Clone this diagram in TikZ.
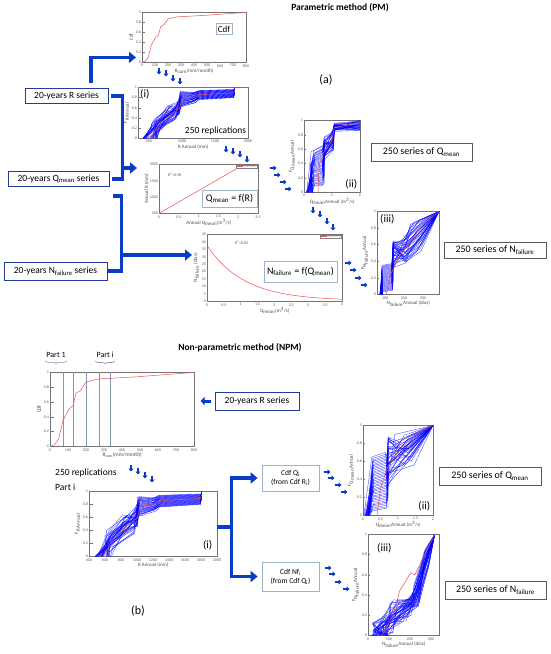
\documentclass[tikz,border=0pt]{standalone}
\usepackage{fontspec}
\setmainfont{Carlito}
\usetikzlibrary{arrows.meta,positioning,decorations.pathreplacing}
\definecolor{flowblue}{HTML}{0A3CC8}
\definecolor{boxblue}{HTML}{1F3C9A}
\definecolor{steelgrey}{HTML}{9FB2CC}
\definecolor{partline}{HTML}{8596B5}
\definecolor{fitred}{HTML}{F05050}
\newcommand{\unitticks}{%
  \foreach \v [count=\i from 0] in {0,0.2,0.4,0.6,0.8,1}
    {\draw[black!55] (0,\i/5) -- ++(0.03,0); \node[tk,left] at (0,\i/5) {\v};}}
\newcommand{\cdfcurve}{%
  \draw[fitcurve] plot coordinates {(0,0) (0.03,0.02) (0.06,0.1) (0.09,0.35) (0.13,0.5) (0.16,0.55)
    (0.18,0.72) (0.21,0.75) (0.25,0.87) (0.33,0.91) (0.6,0.94) (1,1)};}
\newcommand{\ibundle}{%
  \foreach \k in {0,...,36}{%
    \pgfmathsetmacro\pp{\k/36}\pgfmathsetmacro\ra{rnd}\pgfmathsetmacro\rb{rnd}\pgfmathsetmacro\rc{rnd}%
    \draw[rep] ({0.04+0.14*\ra},0) -- ({0.12+0.12*\rb},{0.15+0.25*\pp}) -- ({0.26+0.1*\rc},{0.35+0.3*\pp})
      -- ({0.36+0.02*\ra},{0.45+0.3*\rb}) -- ({0.38+0.02*\rc},{0.62+0.3*\pp}) -- ({0.48+0.05*\ra},{0.7+0.2*\pp})
      -- ({0.54+0.02*\rb},{0.76+0.18*\pp}) -- (0.87,{0.8+0.16*\pp}) -- (0.88,{0.88+0.12*\rc});}%
  \draw[fitcurve] (0.11,0) -- (0.19,0.28) -- (0.33,0.52) -- (0.38,0.6) -- (0.4,0.79) -- (0.52,0.81)
    -- (0.56,0.86) -- (0.87,0.89) -- (0.88,0.95);}

\begin{document}
\begin{tikzpicture}[x=1pt,y=-1pt,
  ax/.style={draw=black!55,line width=0.4pt,inner sep=0pt,fill=white},
  tk/.style={font=\fontsize{4}{4}\selectfont,text=black!65,inner sep=0.8pt},
  axlab/.style={font=\fontsize{5}{5}\selectfont,text=black!70,inner sep=0pt},
  series/.style={draw=boxblue,line width=0.9pt,fill=white,inner sep=2pt,font=\fontsize{9.5}{11}\selectfont,minimum height=15pt},
  result/.style={draw=black!65,line width=0.6pt,fill=white,inner sep=2pt,font=\fontsize{10}{11}\selectfont,minimum height=18pt},
  note/.style={draw=steelgrey,line width=0.7pt,fill=white,inner sep=2pt,align=center},
  tag/.style={font=\fontsize{11}{11}\selectfont,inner sep=1pt},
  flowline/.style={draw=flowblue,line width=3.6pt},
  flow/.style={flowline,-{Triangle[length=7pt,width=11pt]}},
  hop/.style={draw=flowblue,line width=1.8pt,-{Triangle[length=3pt,width=5pt]}},
  rep/.style={draw=blue,line width=0.35pt,opacity=0.75},
  fitcurve/.style={draw=fitred,line width=0.5pt},
  legend/.style={draw=black!50,line width=0.3pt,fill=white,inner sep=0.6pt,text=black!40,font=\fontsize{2.8}{3}\selectfont}]
  \useasboundingbox (0,0) rectangle (550,654);
  \pgfmathsetseed{17}

  % ---------- (a) parametric method ----------
  \node[font=\bfseries\fontsize{9.5}{10}\selectfont] (pmtitle) at (340,8) {Parametric method (PM)};
  \node[font=\fontsize{12}{12}\selectfont] (atag) at (326,80) {(a)};

  % cdf of monthly rain
  \node[ax,minimum width=104pt,minimum height=50pt,anchor=north west] (cdfa) at (142,12) {};
  \begin{scope}[shift={(cdfa.south west)},x={(104pt,0pt)},y={(0pt,50pt)}]
    \cdfcurve
    \foreach \v [count=\i from 0] in {0,100,...,800} \node[tk,below=1pt] at (\i/8,0) {\v};
    \unitticks
  \end{scope}
  \node[axlab,below=6pt of cdfa] (cdfaxl) {R\textsubscript{cum}(mm/month)};
  \node[axlab,rotate=90,anchor=south] (cdfayl) at ([xshift=-9pt]cdfa.west) {Cdf};
  \node[note,font=\fontsize{9}{9}\selectfont] (cdfatag) at (224,29) {Cdf};

  % (i) replications of annual rain
  \node[ax,minimum width=110pt,minimum height=51pt,anchor=north west] (ia) at (138,87) {};
  \begin{scope}[shift={(ia.south west)},x={(110pt,0pt)},y={(0pt,51pt)}]
    \ibundle
    \foreach \p/\v in {0.1/500,0.4/1000,0.7/1500,1/2000} \node[tk,below=1pt] at (\p,0) {\v};
    \unitticks
  \end{scope}
  \node[axlab,below=6pt of ia] (iaxl) {R Annual (mm)};
  \node[axlab,rotate=90,anchor=south] (iayl) at ([xshift=-9pt]ia.west) {F\textsubscript{R Annual}};
  \node[tag,anchor=north west] (iatag) at ([xshift=1pt,yshift=-1pt]ia.north west) {(i)};
  \node[fill=white,inner sep=1pt,font=\fontsize{9.5}{10}\selectfont,anchor=south east] (reps) at ([xshift=-1pt,yshift=2pt]ia.south east) {250 replications};

  % regression Q = f(R)
  \node[ax,minimum width=99pt,minimum height=49pt,anchor=north west] (qfr) at (159,164) {};
  \begin{scope}[shift={(qfr.south west)},x={(99pt,0pt)},y={(0pt,49pt)}]
    \draw[fitcurve] (0,0) -- (0.79,0.92);
    \foreach \v [count=\i from 0] in {0,0.5,1,1.5,2,2.5} \node[tk,below=1pt] at (\i/5,0) {\v};
    \foreach \v [count=\i from 0] in {500,1000,1500,2000} \node[tk,left] at (0,\i/3) {\v};
    \node[tk,anchor=west] at (0.08,0.8) {R\textsuperscript{2}=0.98};
  \end{scope}
  \node[legend,anchor=north east] (qfrleg) at ([xshift=-1pt,yshift=-1pt]qfr.north east) {\hspace{7pt}fitted curve};
  \draw[fitcurve] ([xshift=1pt]qfrleg.west) -- ++(6,0);
  \node[axlab,below=6pt of qfr] (qfrxl) {Annual Q\textsubscript{mean}(m\textsuperscript{3}/s)};
  \node[axlab,rotate=90,anchor=south] (qfryl) at ([xshift=-10pt]qfr.west) {Annual R (mm)};
  \node[note,font=\fontsize{10}{10}\selectfont,minimum width=55pt,minimum height=17pt] (qfrtag) at (229.5,198.5) {Q\textsubscript{mean} = f(R)};

  % (ii) series of Qmean
  \node[ax,minimum width=56pt,minimum height=72pt,anchor=north west] (iia) at (304,120) {};
  \begin{scope}[shift={(iia.south west)},x={(56pt,0pt)},y={(0pt,72pt)}]
    \foreach \k in {0,...,36}{%
      \pgfmathsetmacro\pp{\k/36}\pgfmathsetmacro\ra{rnd}\pgfmathsetmacro\rb{rnd}%
      \draw[rep] ({0.04+0.12*\ra},0) -- ({0.1+0.1*\rb},{0.08+0.5*\pp}) -- ({0.32+0.04*\ra},{0.1+0.55*\pp})
        -- (0.36,{0.42+0.35*\rb}) -- ({0.5+0.03*\ra},{0.58+0.28*\pp}) -- (0.54,{0.84+0.12*\rb}) -- (1,{0.86+0.14*\pp});}
    \draw[fitcurve] (0.25,0) -- (0.27,0.38) -- (0.35,0.55) -- (0.5,0.72) -- (0.54,0.9) -- (1,0.97);
    \foreach \v [count=\i from 0] in {0,1,2} \node[tk,below=1pt] at (\i/2,0) {\v};
    \unitticks
  \end{scope}
  \node[axlab,below=6pt of iia] (iiaxl) {Q\textsubscript{mean}Annual (m\textsuperscript{3}/s)};
  \node[axlab,rotate=90,anchor=south] (iiayl) at ([xshift=-9pt]iia.west) {F\textsubscript{Q\textsubscript{mean}Annual}};
  \node[tag,anchor=south east] (iiatag) at ([xshift=-2pt,yshift=2pt]iia.south east) {(ii)};
  \node[result,minimum width=101pt] (qsera) at (421.5,152) {250 series of Q\textsubscript{mean}};

  % regression N = f(Q)
  \node[ax,minimum width=135pt,minimum height=67pt,anchor=north west] (nfq) at (207,234) {};
  \begin{scope}[shift={(nfq.south west)},x={(135pt,0pt)},y={(0pt,67pt)}]
    \draw[fitcurve,domain=0:1,samples=40] plot (\x,{(37*exp(-4*\x/1.1)+0.5)/45});
    \foreach \v [count=\i from 0] in {0,0.5,1,1.5,2,2.5,3,3.5,4} \node[tk,below=1pt] at (\i/8,0) {\v};
    \foreach \v [count=\i from 0] in {0,5,...,45} \node[tk,left] at (0,\i/9) {\v};
    \node[tk,anchor=west] at (0.2,0.88) {R\textsuperscript{2}=0.83};
  \end{scope}
  \node[legend,anchor=north east] (nfqleg) at ([xshift=-1pt,yshift=-1pt]nfq.north east) {\hspace{7pt}fitted curve};
  \draw[fitcurve] ([xshift=1pt]nfqleg.west) -- ++(6,0);
  \node[axlab,below=6pt of nfq] (nfqxl) {Q\textsubscript{mean}(m\textsuperscript{3}/s)};
  \node[axlab,rotate=90,anchor=south] (nfqyl) at ([xshift=-8pt]nfq.west) {N\textsubscript{failure} (días)};
  \node[note,font=\fontsize{10}{10}\selectfont,minimum width=73pt,minimum height=21pt] (nfqtag) at (300.5,271.5) {N\textsubscript{failure} = f(Q\textsubscript{mean})};

  % (iii) series of Nfailure
  \node[ax,minimum width=62pt,minimum height=83pt,anchor=north west] (iiia) at (377,211) {};
  \begin{scope}[shift={(iiia.south west)},x={(62pt,0pt)},y={(0pt,83pt)}]
    \foreach \k in {0,...,36}{%
      \pgfmathsetmacro\pp{\k/36}\pgfmathsetmacro\ra{rnd}\pgfmathsetmacro\rb{rnd}%
      \draw[rep] ({0.04+0.05*\ra},0) -- (0.08,{0.03+0.32*\pp}) -- ({0.22+0.04*\rb},{0.05+0.32*\pp}) -- (0.26,{0.3+0.35*\ra})
        -- ({0.4+0.08*\rb},{0.38+0.3*\pp}) -- ({0.5+0.25*\ra},{0.5+0.4*\pp}) -- (1,1);}
    \draw[fitcurve] (0.15,0) -- (0.2,0.2) -- (0.35,0.45) -- (0.55,0.65) -- (0.75,0.85) -- (1,1);
    \foreach \p/\v in {0.13/100,0.435/200,0.74/300} \node[tk,below=1pt] at (\p,0) {\v};
    \unitticks
  \end{scope}
  \node[axlab,below=6pt of iiia] (iiiaxl) {N\textsubscript{failure}Annual (días)};
  \node[axlab,rotate=90,anchor=south] (iiiayl) at ([xshift=-9pt]iiia.west) {F\textsubscript{N\textsubscript{failure}Annual}};
  \node[tag,anchor=north west] (iiiatag) at ([xshift=2pt,yshift=-2pt]iiia.north west) {(iii)};
  \node[result,minimum width=102pt,minimum height=16pt] (nsera) at (495,250) {250 series of N\textsubscript{failure}};

  % input series and feeds
  \node[series,minimum width=83pt] (rA) at (66.5,96) {20-years R series};
  \node[series,minimum width=101pt] (qA) at (58.5,179) {20-years Q\textsubscript{mean} series};
  \node[series,minimum width=103pt,minimum height=18pt] (nA) at (55.5,271) {20-years N\textsubscript{failure} series};
  \coordinate (cdfain) at ([xshift=-6pt,yshift=5pt]cdfa.south west);
  \coordinate (qfrin) at ([xshift=-22pt,yshift=-4pt]qfr.north west);
  \coordinate (nfqin) at ([xshift=-15pt,yshift=-21pt]nfq.north west);
  \draw[flow] ([xshift=24.5pt,yshift=5pt]rA.north) |- (cdfain);
  \draw[flowline] ([xshift=3pt]rA.east) -- ++(11,0) coordinate (rAj) |- ([xshift=3pt]qA.east);
  \draw[flow] (rAj |- qfrin) -- (qfrin);
  \draw[flowline] ([xshift=1pt]nA.east) -- ++(13,0) coordinate (nAj) |- ++(-8,-75);
  \draw[flow] (nAj |- nfqin) -- (nfqin);

  % small step arrows
  \foreach \x/\y in {159/71,166/73,173/78,180/81, 226/149,233/151,240/154,247/159,
                     313/210,320/214,327/221,333/227}
    \draw[hop] (\x,\y-3.5) -- ++(0,7);
  \foreach \x/\y in {273/168,277/175,283/182,288/189, 348/263,353/270,358/278,364/285}
    \draw[hop] (\x-3.5,\y) -- ++(7,0);

  % ---------- (b) non-parametric method ----------
  \node[font=\bfseries\fontsize{9.5}{10}\selectfont] (npmtitle) at (240,348) {Non-parametric method (NPM)};
  \node[font=\fontsize{12}{12}\selectfont] (btag) at (138,611) {(b)};

  \node[font=\fontsize{8}{8}\selectfont,inner sep=1pt] (part1) at (56,355) {Part 1};
  \node[font=\fontsize{8}{8}\selectfont,inner sep=1pt] (parti) at (105,355) {Part i};
  \draw[partline,line width=0.6pt,decorate,decoration={brace,amplitude=3pt,mirror}] ([yshift=-2pt]part1.south west) -- ([yshift=-2pt]part1.south east);
  \draw[partline,line width=0.6pt,decorate,decoration={brace,amplitude=3pt,mirror}] ([yshift=-2pt]parti.south west) -- ([yshift=-2pt]parti.south east);

  % cdf split into parts
  \node[ax,minimum width=144pt,minimum height=74pt,anchor=north west] (cdfb) at (50,372) {};
  \begin{scope}[shift={(cdfb.south west)},x={(144pt,0pt)},y={(0pt,74pt)}]
    \foreach \p in {0.09,0.16,0.25,0.34,0.42} \draw[partline,line width=0.6pt] (\p,0) -- (\p,1);
    \cdfcurve
    \foreach \v [count=\i from 0] in {0,100,...,800} \node[tk,below=1pt] at (\i/8,0) {\v};
    \unitticks
  \end{scope}
  \node[axlab,font=\fontsize{5.5}{5.5}\selectfont,below=6pt of cdfb] (cdfbxl) {R\textsubscript{cum}(mm/month)};
  \node[axlab,font=\fontsize{5.5}{5.5}\selectfont,rotate=90,anchor=south] (cdfbyl) at ([xshift=-9pt]cdfb.west) {Cdf};

  \node[series,minimum width=84pt,minimum height=18pt] (rB) at (257,401) {20-years R series};
  \draw[flowline,line width=3pt,-{Triangle[length=4pt,width=8pt]}] ([xshift=-4pt]rB.west) -- ++(-10,0);

  \node[font=\fontsize{9.5}{10}\selectfont,anchor=west,inner sep=0pt] (repsb) at (55,473) {250 replications};
  \node[font=\fontsize{9.5}{10}\selectfont,anchor=west,inner sep=0pt] (partib) at (55,487) {Part i};
  \foreach \x/\y in {131/468,138/471,145/475,152/479}
    \draw[hop] (\x,\y-3.5) -- ++(0,7);

  % (i) replications from part i
  \node[ax,minimum width=128pt,minimum height=65pt,anchor=north west] (ib) at (89,491) {};
  \begin{scope}[shift={(ib.south west)},x={(128pt,0pt)},y={(0pt,65pt)}]
    \ibundle
    \foreach \v [count=\i from 0] in {400,600,...,2000} \node[tk,below=1pt] at (\i/8,0) {\v};
    \unitticks
  \end{scope}
  \node[axlab,below=6pt of ib] (ibxl) {R Annual (mm)};
  \node[axlab,rotate=90,anchor=south] (ibyl) at ([xshift=-9pt]ib.west) {F\textsubscript{R Annual}};
  \node[tag,anchor=south east] (ibtag) at ([xshift=-4pt,yshift=5pt]ib.south east) {(i)};

  \node[note,font=\fontsize{7.5}{9}\selectfont,minimum width=57pt,minimum height=26pt] (cq) at (290.5,478) {Cdf Q\textsubscript{i}\\(from Cdf R\textsubscript{i})};
  \node[note,font=\fontsize{7.5}{9}\selectfont,minimum width=57pt,minimum height=29pt] (cn) at (290.5,576.5) {Cdf Nf\textsubscript{i}\\(from Cdf Q\textsubscript{i})};
  \draw[flowline] ([yshift=-3.5pt]ib.east) -- ++(14,0) coordinate (ibj);
  \draw[flow,shorten >=4pt] (ibj) |- (cq.west);
  \draw[flow,shorten >=4pt] (ibj) |- (cn.west);
  \foreach \x/\y in {327/472,331/478,338/485,344/492, 328/568,332/574,338/582,346/589}
    \draw[hop] (\x-3.5,\y) -- ++(7,0);

  % (ii) series of Qmean
  \node[ax,minimum width=70pt,minimum height=90pt,anchor=north west] (iib) at (363,425) {};
  \begin{scope}[shift={(iib.south west)},x={(70pt,0pt)},y={(0pt,90pt)}]
    \foreach \k in {0,...,36}{%
      \pgfmathsetmacro\pp{\k/36}\pgfmathsetmacro\ra{rnd}\pgfmathsetmacro\rb{rnd}%
      \draw[rep] ({0.01+0.1*\ra},0) -- ({0.12+0.04*\rb},{0.05+0.6*\pp}) -- ({0.32+0.04*\ra},{0.08+0.62*\pp})
        -- (0.36,{0.3+0.6*\rb}) -- ({0.45+0.3*\ra},{0.55+0.35*\pp}) -- (1,1);}
    \draw[fitcurve] (0.2,0) -- (0.25,0.3) -- (0.36,0.55) -- (0.55,0.75) -- (0.75,0.9) -- (1,1);
    \foreach \v [count=\i from 0] in {0,0.5,1,1.5,2} \node[tk,below=1pt] at (\i/4,0) {\v};
    \unitticks
  \end{scope}
  \node[axlab,below=6pt of iib] (iibxl) {Q\textsubscript{mean}Annual (m\textsuperscript{3}/s)};
  \node[axlab,rotate=90,anchor=south] (iibyl) at ([xshift=-9pt]iib.west) {F\textsubscript{Q\textsubscript{mean}Annual}};
  \node[tag,anchor=south east] (iibtag) at ([xshift=-2pt,yshift=3pt]iib.south east) {(ii)};
  \node[result,minimum width=102pt] (qserb) at (490,476) {250 series of Q\textsubscript{mean}};

  % (iii) series of Nfailure
  \node[ax,minimum width=71pt,minimum height=101pt,anchor=north west] (iiib) at (368,534) {};
  \begin{scope}[shift={(iiib.south west)},x={(71pt,0pt)},y={(0pt,101pt)}]
    \foreach \k in {0,...,40}{%
      \pgfmathsetmacro\pp{\k/40}\pgfmathsetmacro\ra{rnd}\pgfmathsetmacro\rb{rnd}\pgfmathsetmacro\rc{rnd}%
      \draw[rep] ({0.01+0.3*\ra},0) -- ({0.05+0.3*\rb},{0.02+0.12*\rc}) -- ({0.3+0.35*\pp},{0.08+0.3*\ra})
        -- ({0.64+0.08*\rb},{0.28+0.22*\pp}) -- ({0.78+0.08*\rc},{0.65+0.2*\pp}) -- (0.94,1);}
    \draw[fitcurve] (0.2,0) -- (0.35,0.2) -- (0.45,0.45) -- (0.5,0.5) -- (0.6,0.62) -- (0.66,0.6) -- (0.8,0.8) -- (0.94,1);
    \foreach \v [count=\i from 0] in {0,100,200,300} \node[tk,below=1pt] at (\i*0.295,0) {\v};
    \unitticks
  \end{scope}
  \node[axlab,below=6pt of iiib] (iiibxl) {N\textsubscript{failure}Annual (días)};
  \node[axlab,rotate=90,anchor=south] (iiibyl) at ([xshift=-9pt]iiib.west) {F\textsubscript{N\textsubscript{failure}Annual}};
  \node[tag,anchor=north west] (iiibtag) at ([xshift=8pt,yshift=-8pt]iiib.north west) {(iii)};
  \node[result,minimum width=101pt] (nserb) at (495.5,590) {250 series of N\textsubscript{failure}};
\end{tikzpicture}
\end{document}
